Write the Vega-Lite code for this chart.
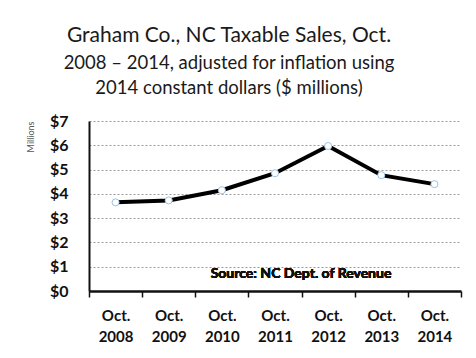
{
  "$schema": "https://vega.github.io/schema/vega-lite/v6.json",
  "width": 372,
  "height": 170,
  "autosize": {"type": "none"},
  "padding": {"left": 89, "top": 121, "right": 15, "bottom": 67},
  "background": "white",
  "title": {
    "text": "Graham Co., NC Taxable Sales, Oct.",
    "subtitle": ["2008 – 2014, adjusted for inflation using", "2014 constant dollars ($ millions)"],
    "font": "Lato",
    "fontSize": 21,
    "fontWeight": "normal",
    "color": "#1a1a1a",
    "subtitleFont": "Lato",
    "subtitleFontSize": 18.5,
    "subtitleColor": "#1a1a1a",
    "subtitleLineHeight": 25,
    "subtitlePadding": 8,
    "anchor": "middle",
    "dx": -46,
    "offset": 16
  },
  "data": {
    "values": [
      {"year": "2008", "sales": 3.65},
      {"year": "2009", "sales": 3.73},
      {"year": "2010", "sales": 4.15},
      {"year": "2011", "sales": 4.85},
      {"year": "2012", "sales": 5.97},
      {"year": "2013", "sales": 4.77},
      {"year": "2014", "sales": 4.4}
    ]
  },
  "config": {
    "view": {"stroke": null},
    "font": "Lato"
  },
  "encoding": {
    "x": {
      "field": "year",
      "type": "ordinal",
      "bandPosition": 0.5,
      "scale": {"type": "band", "paddingInner": 0, "paddingOuter": 0},
      "axis": {
        "title": null,
        "labelAngle": 0,
        "labelExpr": "datum.label ? ['Oct.', datum.label] : ''",
        "labelFont": "Lato",
        "labelFontSize": 15,
        "labelFontWeight": "bold",
        "labelColor": "#111",
        "labelLineHeight": 21,
        "labelPadding": 11,
        "tickBand": "extent",
        "tickSize": 6,
        "tickColor": "#111",
        "tickWidth": 1.5,
        "domainColor": "#111",
        "domainWidth": 2.5,
        "grid": false
      }
    },
    "y": {
      "field": "sales",
      "type": "quantitative",
      "scale": {"domain": [0, 7], "nice": false, "zero": true},
      "axis": {
        "title": "Millions",
        "titleFont": "Lato",
        "titleFontSize": 9,
        "titleFontWeight": "normal",
        "titleColor": "#555",
        "titleAnchor": "end",
        "titlePadding": 14,
        "values": [0, 1, 2, 3, 4, 5, 6, 7],
        "format": "$.0f",
        "labelFont": "Lato",
        "labelFontSize": 16,
        "labelFontWeight": "bold",
        "labelColor": "#111",
        "labelPadding": 21,
        "ticks": false,
        "domainColor": "#111",
        "domainWidth": 2,
        "grid": true,
        "gridColor": "#9a9a9a",
        "gridDash": [2, 2],
        "gridWidth": 1
      }
    }
  },
  "layer": [
    {
      "mark": {"type": "line", "color": "#000", "strokeWidth": 4, "point": {"filled": true, "fill": "white", "stroke": "#9dc3e6", "strokeWidth": 1, "size": 50}}
    },
    {
      "mark": {"type": "text", "text": "Source: NC Dept. of Revenue", "font": "Lato", "fontSize": 14, "fontWeight": "bold", "color": "#111", "align": "center", "baseline": "middle", "dx": 26},
      "encoding": {
        "x": {"datum": "2011", "type": "ordinal", "bandPosition": 0.5},
        "y": {"datum": 0.7, "type": "quantitative"}
      }
    }
  ]
}
